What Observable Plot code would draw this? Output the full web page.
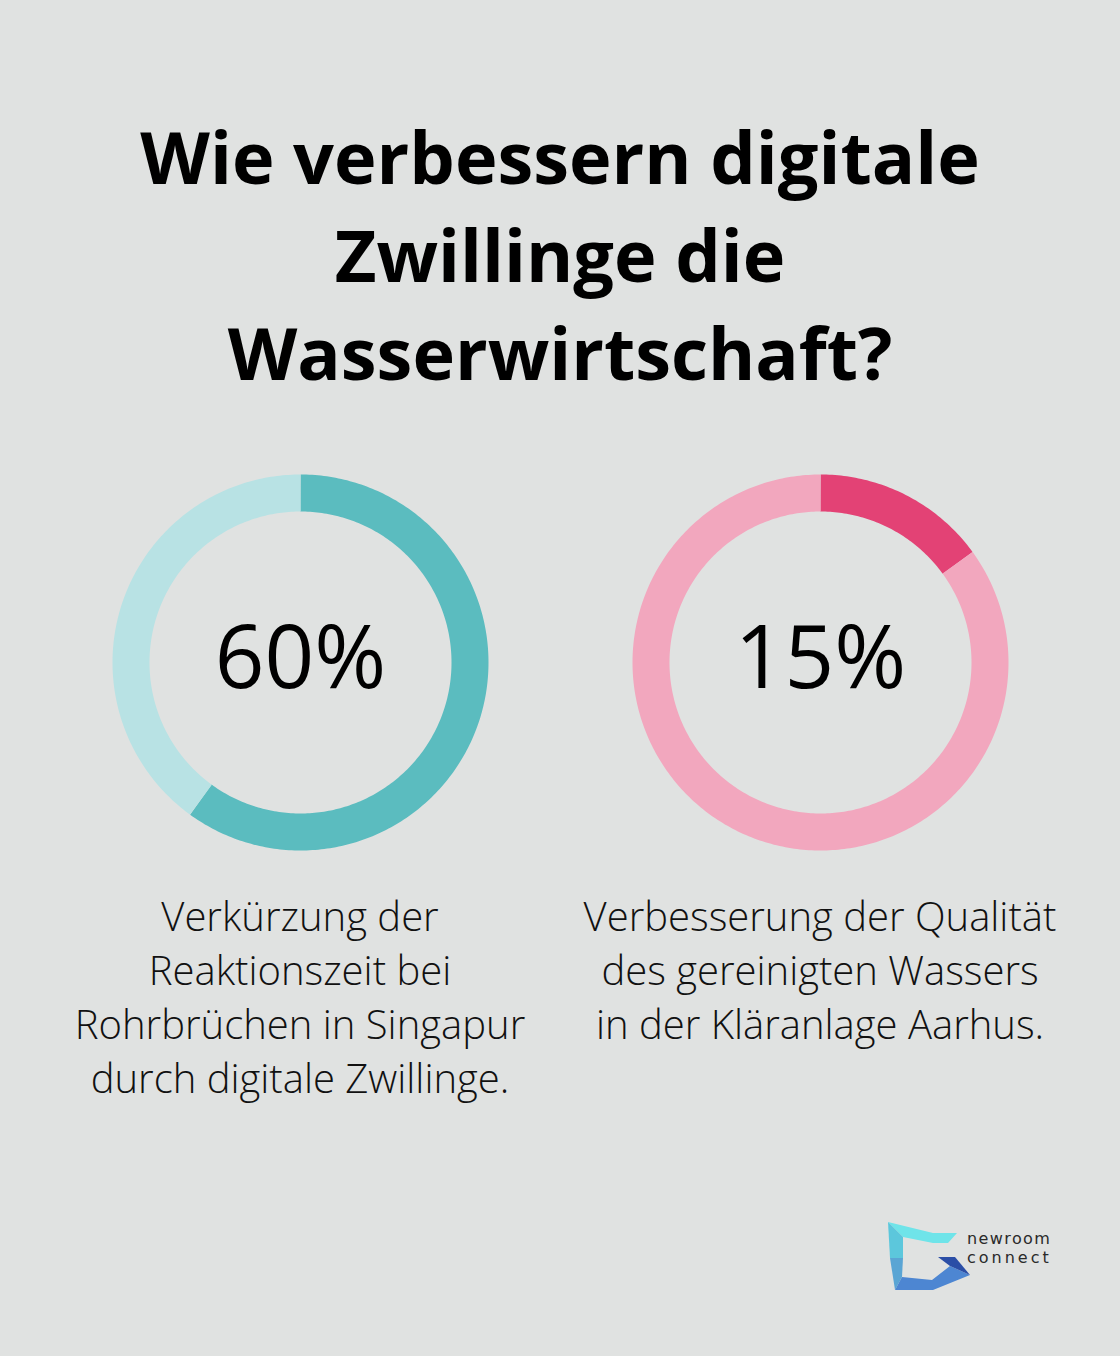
<!DOCTYPE html>
<html>
<head>
<meta charset="utf-8">
<script src="https://cdn.jsdelivr.net/npm/d3@7"></script>
<script src="https://cdn.jsdelivr.net/npm/@observablehq/plot@0.6"></script>
<style>
  html, body { margin: 0; padding: 0; background: #e0e2e1; }
  #page { position: relative; width: 1120px; height: 1356px; background: #e0e2e1; font-family: "Open Sans", sans-serif; overflow: hidden; }
  #title { position: absolute; left: 0; top: 107px; width: 1120px; text-align: center; font-size: 72px; font-weight: 700; line-height: 98px; color: #000; }
  .donut { position: absolute; top: 462px; width: 400px; height: 400px; }
  .cap { position: absolute; top: 889px; width: 560px; text-align: center; font-size: 40px; font-weight: 300; line-height: 54px; color: #111; }
  #logo { position: absolute; left: 884px; top: 1216px; }
  .logotext { position: absolute; left: 967px; font-family: "DejaVu Sans", sans-serif; font-size: 16px; font-weight: 400; color: #2a2a2a; line-height: 19px; white-space: nowrap; }
</style>
</head>
<body>
<div id="page">
  <div id="title"></div>
  <svg id="logo" width="92" height="80" viewBox="884 1216 92 80">
    <polygon points="888,1222 933,1233 957,1233 948,1243 933,1243 903,1237" fill="#6fe4e9"/>
    <polygon points="888,1222 903,1237 903,1258 890,1258" fill="#5cc7dc"/>
    <polygon points="890,1258 903,1258 902,1277 895,1290" fill="#5aa5d4"/>
    <polygon points="895,1290 902,1277 932,1280 950,1266 970,1275 933,1290" fill="#4d86d2"/>
    <polygon points="938,1257 955,1257 970,1275 950,1266" fill="#2b4ea6"/>
  </svg>
  <div class="logotext" style="top:1229px; letter-spacing:1.4px">newroom</div>
  <div class="logotext" style="top:1248px; letter-spacing:3px">connect</div>
</div>
<script>
// ---- data ----
const titleLines = ["Wie verbessern digitale", "Zwillinge die", "Wasserwirtschaft?"];
const labels = ["60%", "15%"];
const values = [60, 15];
const captions = [
  ["Verkürzung der", "Reaktionszeit bei", "Rohrbrüchen in Singapur", "durch digitale Zwillinge."],
  ["Verbesserung der Qualität", "des gereinigten Wassers", "in der Kläranlage Aarhus."]
];
const mainColors = ["#5bbcbf", "#e34275"];
const restColors = ["#b8e2e4", "#f2a7be"];

// ---- layout ----
document.getElementById("title").innerHTML = titleLines.join("<br>");
const centers = [300, 820];
const page = document.getElementById("page");

const R = 200 / 169.5; // domain half-extent so ring mid-radius = 1
function arcPoints(from, to, seg, color) {
  const pts = [];
  const step = 0.25;
  for (let p = from; p < to; p += step) pts.push(p);
  pts.push(to);
  return pts.map(p => {
    const a = p / 100 * 2 * Math.PI;
    return { x: Math.sin(a), y: Math.cos(a), seg, color };
  });
}

values.forEach((v, i) => {
  const data = [
    ...arcPoints(0, v, "main", mainColors[i]),
    ...arcPoints(v, 100, "rest", restColors[i])
  ];
  const chart = Plot.plot({
    width: 400,
    height: 400,
    margin: 0,
    x: { domain: [-R, R], axis: null },
    y: { domain: [-R, R], axis: null },
    color: { type: "identity" },
    style: { background: "transparent", fontFamily: "Open Sans, sans-serif", overflow: "visible" },
    marks: [
      Plot.line(data, { x: "x", y: "y", z: "seg", stroke: "color", strokeWidth: 37, strokeLinecap: "butt", strokeLinejoin: "round" }),
      Plot.text([{ x: 0, y: 0, label: labels[i] }], { x: "x", y: "y", text: "label", fontSize: 87, fontWeight: 500, fill: "#000", textAnchor: "middle", dy: -2.5 })
    ]
  });
  const holder = document.createElement("div");
  holder.className = "donut";
  holder.style.left = (centers[i] - 200) + "px";
  holder.appendChild(chart);
  page.appendChild(holder);

  const cap = document.createElement("div");
  cap.className = "cap";
  cap.style.left = (centers[i] - 280) + "px";
  cap.innerHTML = captions[i].join("<br>");
  page.appendChild(cap);
});
</script>
</body>
</html>
